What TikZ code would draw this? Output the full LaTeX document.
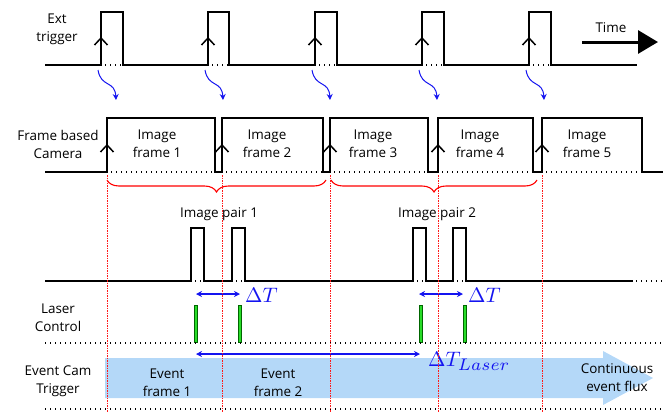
\documentclass[tikz,border=0pt]{standalone}
\usepackage{graphicx}
\usepackage{fontspec}
\setmainfont{Open Sans}
\usetikzlibrary{arrows.meta,decorations.pathreplacing}
\definecolor{bandblue}{RGB}{180,216,248}
\definecolor{arrblue}{RGB}{20,20,240}
\definecolor{lasergreen}{RGB}{40,220,40}
\tikzset{
  sig/.style={line width=1.6bp, line join=miter},
  dotl/.style={line width=1.4bp, dash pattern=on 1.4bp off 3.6bp},
  chev/.style={line width=1.5bp},
  lbl/.style={font=\fontsize{13.5}{18}\selectfont, align=center, inner sep=0},
  vred/.style={red!90, line width=0.6bp, dash pattern=on 1.5bp off 1bp},
  brc/.style={red, line width=1.1bp, decorate, decoration={brace, mirror, amplitude=12bp}},
  dt/.style={arrblue, line width=1.2bp, {Stealth[length=6bp,width=6bp]}-{Stealth[length=6bp,width=6bp]}},
  squig/.style={arrblue, line width=1bp, -{Stealth[length=6bp,width=6bp]}},
  gbar/.style={fill=lasergreen, draw=black!60!green, line width=0.6bp},
  mlbl/.style={arrblue, font=\fontsize{10}{10}\selectfont, anchor=west, inner sep=0}
}
\newcommand{\chevron}[2]{\draw[chev] (#1-6.5,#2+7) -- (#1,#2) -- (#1+6.5,#2+7);}
\begin{document}
\begin{tikzpicture}[x=1bp,y=-1bp]
\useasboundingbox (0,0) rectangle (663,412);

% blue band arrow
\fill[bandblue] (105,358) -- (603,358) -- (603,351) -- (653,378) -- (603,405) -- (603,398) -- (105,398) -- cycle;

% row labels
\node[lbl] (l1) at (57,29) {Ext\\trigger};
\node[lbl] (l2) at (58,144) {Frame based\\Camera};
\node[lbl] (l3) at (58,318) {Laser\\Control};
\node[lbl] (l4) at (58,381) {Event Cam\\Trigger};

% Ext trigger
\draw[sig] (45,65) -- (101,65) -- (101,12) -- (123,12) -- (123,65) -- (208,65) -- (208,12) -- (229,12) -- (229,65)
  -- (315,65) -- (315,12) -- (337,12) -- (337,65) -- (422,65) -- (422,12) -- (444,12) -- (444,65)
  -- (529,65) -- (529,12) -- (551,12) -- (551,65) -- (637,65);
\foreach \a/\b in {101/123,208/229,315/337,422/444,529/551}{
  \draw[dotl] (\a+4,65) -- (\b,65);
  \chevron{\a}{38}
  \draw[squig] (\a-3,70) .. controls (\a,88) and (\a+14,80) .. (\a+15,100);
}

% Time arrow
\draw[line width=3bp, -{Triangle[length=20bp,width=23bp]}] (582,42) -- (658,42);
\node[lbl] (time) at (611,28) {Time};

% Frame based camera
\draw[sig] (45,172) -- (107,172) -- (107,118) -- (215,118) -- (215,172) -- (222,172) -- (222,118) -- (323,118) -- (323,172)
  -- (330,172) -- (330,118) -- (428,118) -- (428,172) -- (438,172) -- (438,118) -- (533,118) -- (533,172)
  -- (542,172) -- (542,118) -- (642,118) -- (642,172) -- (663,172);
\foreach \a/\b in {107/215,222/323,330/428,438/533,542/642}{
  \draw[dotl] (\a+4,172) -- (\b,172);
  \chevron{\a}{145}
}
\node[lbl] (f1) at (157,144) {Image\\frame 1};
\node[lbl] (f2) at (267,144) {Image\\frame 2};
\node[lbl] (f3) at (373,144) {Image\\frame 3};
\node[lbl] (f4) at (480,144) {Image\\frame 4};
\node[lbl] (f5) at (587,144) {Image\\frame 5};

% braces
\draw[brc] (107,180) -- (326,180);
\draw[brc] (331,180) -- (537,180);

% image pair signal
\draw[sig] (45,281) -- (191,281) -- (191,228) -- (204,228) -- (204,281) -- (232,281) -- (232,228) -- (245,228) -- (245,281)
  -- (413,281) -- (413,228) -- (426,228) -- (426,281) -- (453,281) -- (453,228) -- (466,228) -- (466,281) -- (633,281);
\draw[dotl] (636,281) -- (663,281);
\foreach \a/\b in {191/204,232/245,413/426,453/466}{
  \draw[dotl] (\a+4,281) -- (\b,281);
}
\node[lbl] (p1) at (219,214) {Image pair 1};
\node[lbl] (p2) at (437,214) {Image pair 2};

% delta T arrows
\coordinate (d1a) at (196,294); \coordinate (d1b) at (240,294);
\coordinate (d2a) at (419,294); \coordinate (d2b) at (463,294);
\draw[dt] (d1a) -- (d1b);
\draw[dt] (d2a) -- (d2b);
\node[mlbl] (t1) at (245,295) {\scalebox{2.1}{$\Delta T$}};
\node[mlbl] (t2) at (468,295) {\scalebox{2.1}{$\Delta T$}};

% green laser bars
\foreach \x in {196,240,421,465}{
  \draw[gbar] (\x-1.5,305) rectangle (\x+1.5,342);
}

% dotted lines
\draw[dotl] (45,343) -- (663,343);
\draw[dotl] (45,409) -- (663,409);

% delta T laser
\coordinate (dla) at (196,354); \coordinate (dlb) at (420,354);
\draw[dt] (dla) -- (dlb);
\node[mlbl] (tl) at (428,361) {\scalebox{2.1}{$\Delta T_{\scalebox{1.15}{$\scriptstyle Laser$}}$}};

% event texts
\node[lbl] (e1) at (167,383) {Event\\frame 1};
\node[lbl] (e2) at (278,383) {Event\\frame 2};
\node[lbl] (cf) at (617,378) {Continuous\\event flux};

% red verticals
\foreach \x in {107,222,330,438,542}{
  \draw[vred] (\x,175) -- (\x,412);
}
\end{tikzpicture}
\end{document}
